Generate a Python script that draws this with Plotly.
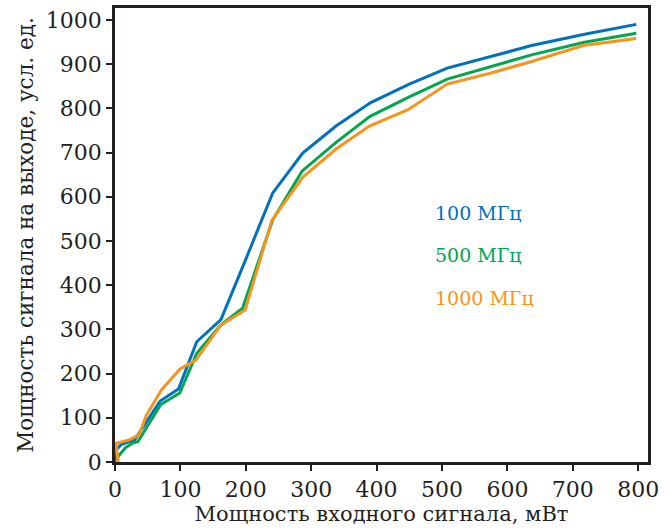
import plotly.graph_objects as go

# 100 MHz
x_100 = [0, 1, 10, 22, 30, 69, 97, 125, 162, 199, 241, 287, 338, 391, 450, 508, 575, 637, 716, 797]
y_100 = [0, 27, 40, 46, 50, 138, 165, 272, 322, 455, 608, 699, 760, 813, 855, 891, 918, 942, 967, 990]
# 500 MHz
x_500 = [3, 15, 27, 35, 70, 99, 125, 162, 195, 241, 286, 338, 390, 450, 508, 575, 637, 716, 797]
y_500 = [9, 31, 43, 46, 130, 156, 246, 310, 348, 547, 658, 723, 782, 826, 866, 895, 921, 949, 970]
# 1000 MHz
x_1000 = [5, 1, 22, 37, 48, 71, 99, 124, 162, 199, 240, 287, 338, 389, 448, 508, 575, 637, 716, 797]
y_1000 = [0, 42, 50, 62, 106, 163, 210, 231, 310, 344, 547, 644, 708, 760, 797, 855, 880, 906, 942, 958]

labels = ["100 МГц", "500 МГц", "1000 МГц"]
colors = ["#0071BC", "#00A651", "#F7941D"]
label_y = [563, 468, 371]

x_ticks = [0, 100, 200, 300, 400, 500, 600, 700, 800]
y_ticks = [0, 100, 200, 300, 400, 500, 600, 700, 800, 900, 1000]

FONT = "DejaVu Serif"

fig = go.Figure()
for xs, ys, c, name in [(x_100, y_100, colors[0], labels[0]),
                        (x_500, y_500, colors[1], labels[1]),
                        (x_1000, y_1000, colors[2], labels[2])]:
    fig.add_trace(go.Scatter(x=xs, y=ys, mode="lines", name=name,
                             line=dict(color=c, width=3)))

for lab, c, ly in zip(labels, colors, label_y):
    fig.add_annotation(x=486, y=ly, text=lab, showarrow=False, xanchor="left",
                       yanchor="middle", font=dict(family=FONT, size=19, color=c))

axis_common = dict(showline=True, linecolor="#231F20", linewidth=2.5, mirror=True,
                   ticks="outside", ticklen=6, tickwidth=1.5, tickcolor="#231F20",
                   showgrid=False, zeroline=False, automargin=False,
                   tickfont=dict(family=FONT, size=22, color="#231F20"))

fig.update_xaxes(range=[0, 815], tickvals=x_ticks,
                 title=dict(text="Мощность входного сигнала, мВт",
                            font=dict(family=FONT, size=21, color="#231F20"), standoff=4),
                 **axis_common)
fig.update_yaxes(range=[0, 1027], tickvals=y_ticks,
                 title=dict(text="Мощность сигнала на выходе, усл. ед.",
                            font=dict(family=FONT, size=21.5, color="#231F20"), standoff=7),
                 **axis_common)

fig.update_layout(width=670, height=530, showlegend=False,
                  plot_bgcolor="white", paper_bgcolor="white",
                  margin=dict(l=115, r=22, t=8, b=68))

fig.write_html("out.html", config={"displayModeBar": False},
               post_script="document.body.style.margin='0px';document.body.style.overflow='hidden';")
